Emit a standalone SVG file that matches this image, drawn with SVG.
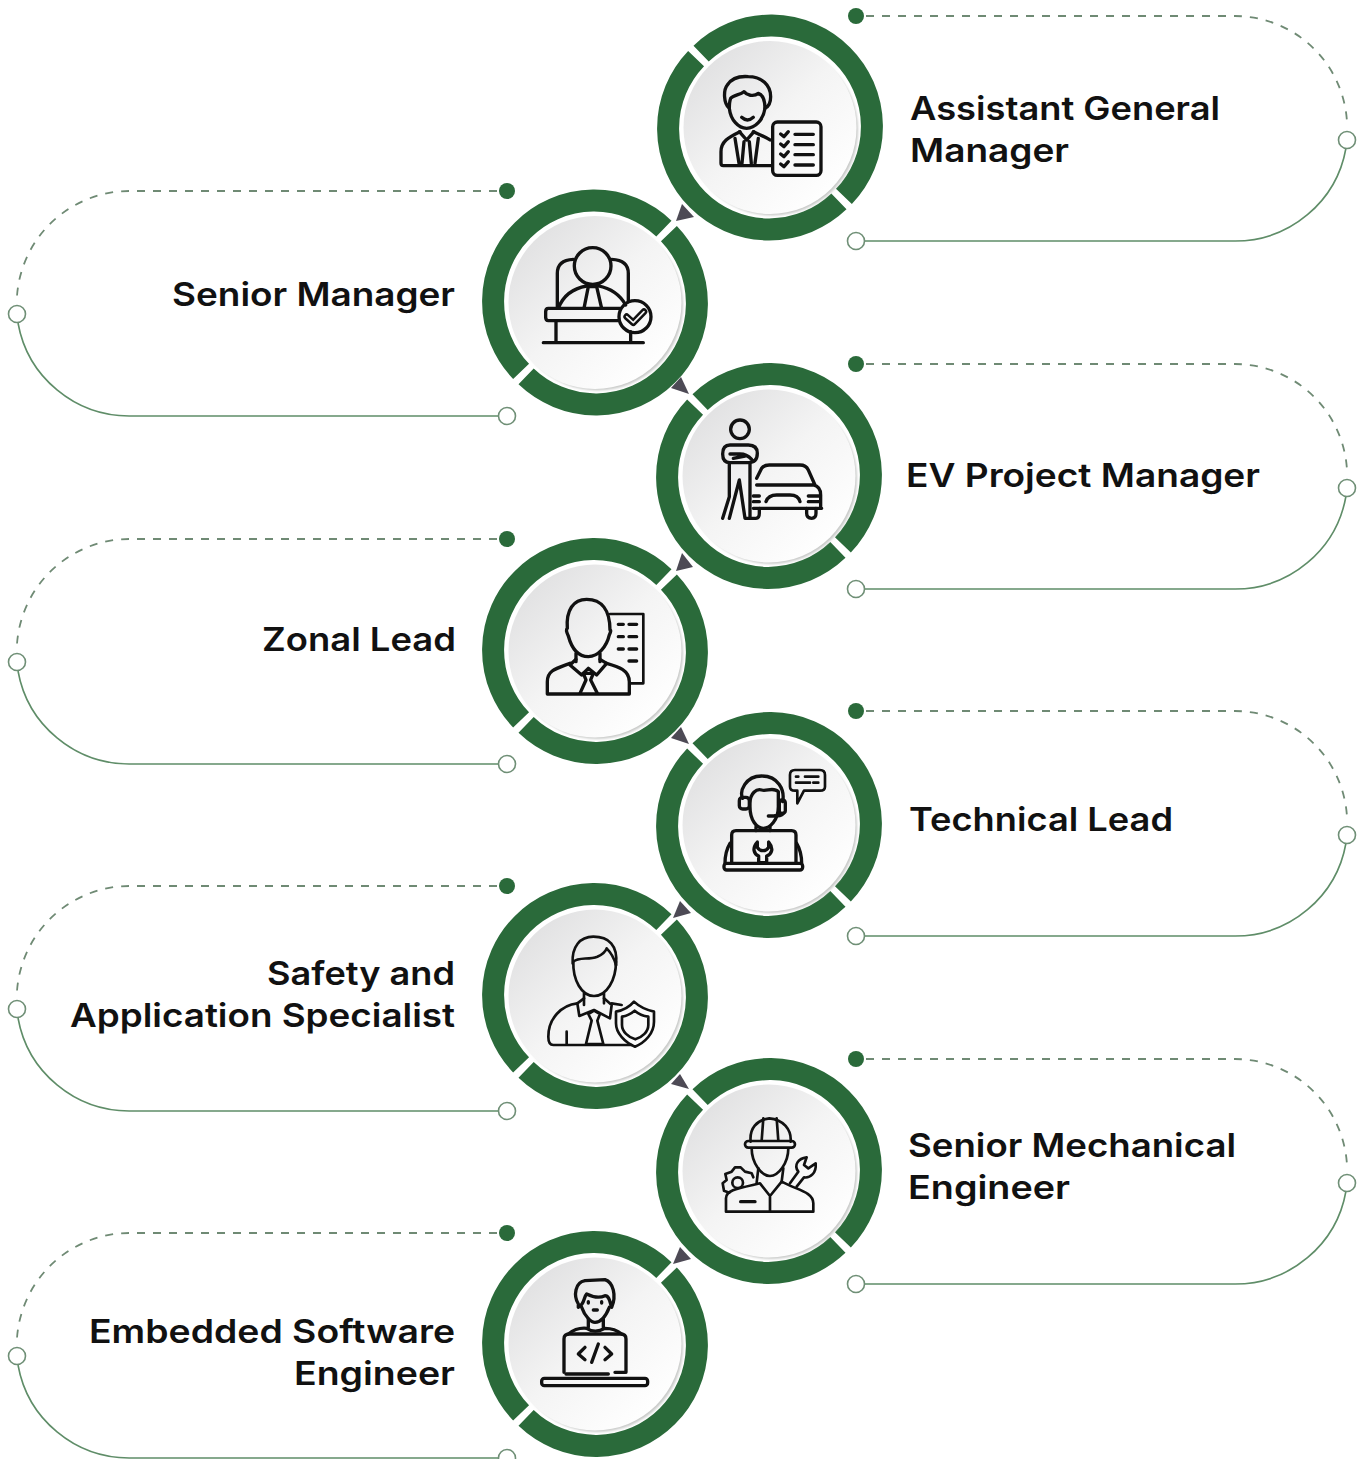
<svg xmlns="http://www.w3.org/2000/svg" width="1363" height="1459" viewBox="0 0 1363 1459">
<style>
.ring{fill:none;stroke:#2a6a3a;stroke-width:22}
.disc{fill:url(#discGrad)}
.shade{fill:#c9cbc9;filter:url(#soft)}
.ico{fill:none;stroke:#111;stroke-width:10;stroke-linecap:round;stroke-linejoin:round}
.thin{stroke-width:8}
.lbl{font-family:"Inter","Liberation Sans",sans-serif;font-weight:600;font-size:33px;fill:#111}
.dash{fill:none;stroke:#6f8a74;stroke-width:1.8;stroke-dasharray:8 8}
.solid{fill:none;stroke:#5f8d68;stroke-width:1.6}
.dot{fill:#2a6a3a}
.open{fill:#fff;stroke:#6f8f76;stroke-width:1.6}
.tri{fill:#4d4a55}
</style>
<defs>
<linearGradient id="discGrad" x1="0.1" y1="0.1" x2="0.85" y2="0.9">
<stop offset="0" stop-color="#e0e0e1"/><stop offset="0.5" stop-color="#f4f4f4"/><stop offset="1" stop-color="#ffffff"/>
</linearGradient>
<filter id="soft" x="-10%" y="-10%" width="120%" height="120%"><feGaussianBlur stdDeviation="1"/></filter>
<g id="ringA"><path class="ring" d="M68.900 73.900A101 101 0 0 1-73.900-68.900"/><path class="ring" d="M-68.900-73.900A101 101 0 0 1 73.900 68.900"/><circle class="shade" cx="2.500" cy="2.500" r="85.500"/><circle class="disc" r="86.500"/></g>
<g id="ringB"><path class="ring" d="M73.900-68.900A101 101 0 0 1-68.900 73.900"/><path class="ring" d="M-73.900 68.900A101 101 0 0 1 68.900-73.900"/><circle class="shade" cx="2.500" cy="2.500" r="85.500"/><circle class="disc" r="86.500"/></g>
<g id="connR"><circle class="dot" cx="856" cy="16" r="8"/><path class="dash" d="M866 16H1235A112.500 112.500 0 0 1 1347 122"/><path class="solid" d="M1346 148A112.500 112.500 0 0 1 1235 241H865"/><circle class="open" cx="1347" cy="140" r="8.500"/><circle class="open" cx="856" cy="241" r="8.500"/></g>
<g id="connL"><circle class="dot" cx="507" cy="191" r="8"/><path class="dash" d="M497 191H130A113 113 0 0 0 17 296"/><path class="solid" d="M18 323A113 113 0 0 0 130 416H498"/><circle class="open" cx="17" cy="314" r="8.500"/><circle class="open" cx="507" cy="416" r="8.500"/></g>
</defs>
<rect width="1363" height="1459" fill="#fff"/>
<g id="connectors">
<use href="#connR"/><use href="#connL"/>
<use href="#connR" y="348"/><use href="#connL" y="348"/>
<use href="#connR" y="695"/><use href="#connL" y="695"/>
<use href="#connR" y="1043"/><use href="#connL" y="1042"/>
<polygon class="tri" points="682,204 694,217 676,221"/>
<polygon class="tri" points="681,377 689,394 671,388"/>
<polygon class="tri" points="682,553 693,567 676,571"/>
<polygon class="tri" points="681,727 689,744 671,738"/>
<polygon class="tri" points="680,901 691,913 673,918"/>
<polygon class="tri" points="680,1074 689,1089 671,1084"/>
<polygon class="tri" points="680,1247 691,1259 673,1264"/>
</g>
<g id="node-assistant-general-manager">
<use href="#ringA" x="770" y="127.500"/>
<g class="ico" transform="translate(640 0) scale(.3333)">
<path d="M268 325C250 310 250 270 262 255C275 235 300 228 325 230C365 230 392 255 392 290C392 310 385 320 375 325C375 300 370 285 355 280C340 292 320 285 312 275C300 285 280 285 272 295C268 305 268 315 268 325Z"/>
<path d="M268 325C272 360 295 385 320 385C345 385 370 360 375 325"/>
<path d="M305 352Q322 368 340 352"/>
<path d="M395 497H250Q243 497 243 490V455C243 425 265 412 300 395M340 395C360 405 375 410 390 420"/>
<path d="M298 395L320 420L342 395M312 425L306 490M328 425L334 490M285 415L297 490M355 415L345 490"/>
<rect x="398" y="366" width="145" height="160" rx="14"/>
<path d="M465 403H520M465 434H520M465 464H520M465 495H520"/>
<path d="M422 402L432 410L445 395M422 432L432 440L445 425M422 462L432 470L445 455M422 492L432 500L445 485"/>
</g>
<text class="lbl" x="910" y="120" textLength="310" lengthAdjust="spacingAndGlyphs">Assistant General</text>
<text class="lbl" x="910" y="162" textLength="159" lengthAdjust="spacingAndGlyphs">Manager</text>
</g>
<g id="node-senior-manager">
<use href="#ringB" x="595" y="302.500"/>
<g class="ico" transform="translate(480 180) scale(.3333)">
<circle cx="338" cy="258" r="55"/>
<path d="M232 380V280Q232 240 280 238M395 238Q445 240 445 280V365"/>
<path d="M235 385C250 345 280 325 320 318M355 318C390 325 420 345 437 375"/>
<path d="M325 320L312 385M350 320L365 385M325 320H350"/>
<path d="M415 422H205Q197 422 197 412V395Q197 385 205 385H420"/>
<path d="M228 425V488M452 455V488M190 488H490"/>
<circle cx="465" cy="410" r="48"/>
<path d="M440 410L460 428L492 395" stroke-width="20"/>
<path d="M440 410L460 428L492 395" stroke="#f7f7f7" stroke-width="5"/>
</g>
<text class="lbl" x="455" y="306" text-anchor="end" textLength="283" lengthAdjust="spacingAndGlyphs">Senior Manager</text>
</g>
<g id="node-ev-project-manager">
<use href="#ringA" x="769" y="476"/>
<g class="ico" transform="translate(650 370) scale(.3333)">
<circle cx="270" cy="178" r="28"/>
<path d="M250 225H295Q322 225 322 250Q322 278 295 278H240Q218 278 218 252Q218 225 240 225H250M240 252H270Q290 252 305 268M250 265L285 258"/>
<path d="M238 280V380L218 445M300 280V445H285L268 330L238 445"/>
<path d="M320 325L335 295Q342 285 358 285H450Q468 285 475 300L495 345M320 345H490Q512 350 512 375V415"/>
<path d="M348 395Q355 375 380 375H420Q445 375 450 395M310 415H515"/>
<path d="M470 415V430Q470 445 485 445Q498 445 498 430V415M302 445H318Q328 445 328 430V415"/>
<path d="M475 378H510M475 395H510M310 378H328M310 395H328"/>
</g>
<text class="lbl" x="906" y="487" textLength="354" lengthAdjust="spacingAndGlyphs">EV Project Manager</text>
</g>
<g id="node-zonal-lead">
<use href="#ringB" x="595" y="651"/>
<g class="ico" transform="translate(490 550) scale(.3333)">
<path d="M232 235C228 180 250 148 290 148C335 148 360 180 360 240Q365 240 358 255C350 290 325 320 295 320C265 320 245 295 235 258Q226 240 232 235Z"/>
<path d="M258 310V335M330 310V335"/>
<path d="M258 328L240 345L275 375L295 355L320 375L350 340L330 328"/>
<path d="M240 340C200 355 172 360 172 395V432H418V395C418 360 385 350 350 340"/>
<path d="M280 370L288 390L270 430M310 370L302 390L322 430M280 370H310"/>
<path class="thin" d="M360 192H460V400H420"/>
<path d="M385 223H400M417 223H440M385 260H400M417 260H440M385 297H400M417 297H440M417 333H440"/>
</g>
<text class="lbl" x="456" y="651" text-anchor="end" textLength="194" lengthAdjust="spacingAndGlyphs">Zonal Lead</text>
</g>
<g id="node-technical-lead">
<use href="#ringA" x="769" y="825"/>
<g class="ico" transform="translate(650 720) scale(.3333)">
<path d="M278 235C268 215 285 168 335 168C385 168 405 210 398 245"/>
<path d="M300 250C300 220 320 205 335 210C350 215 370 200 385 215V260C385 300 360 325 340 325C320 325 300 300 300 260Z"/>
<rect x="268" y="232" width="30" height="35" rx="10"/><rect x="388" y="240" width="18" height="40" rx="8"/>
<path d="M400 280Q395 290 375 287M355 288H375"/>
<path d="M318 320V332M360 320V332"/>
<path d="M245 430V345Q245 332 258 332H425Q438 332 438 345V430"/>
<rect x="222" y="430" width="236" height="20" rx="8"/>
<path d="M240 370Q225 395 225 430M440 370Q455 395 455 430"/>
<path d="M322 366C305 385 312 402 326 408V428H350V408C366 402 372 385 356 366V382Q350 392 339 392Q328 392 322 382Z"/>
<path class="thin" d="M420 165Q420 150 435 150H510Q525 150 525 165V200Q525 212 510 212H462L442 250V212H435Q420 212 420 200Z"/>
<path class="thin" d="M438 170H445M465 170H505M438 188H480M490 188H505"/>
</g>
<text class="lbl" x="909" y="831" textLength="264" lengthAdjust="spacingAndGlyphs">Technical Lead</text>
</g>
<g id="node-safety-and-application-specialist">
<use href="#ringB" x="595" y="996"/>
<g class="ico thin" transform="translate(490 890) scale(.3333)">
<path d="M248 220C245 170 270 140 310 140C355 140 385 165 378 225"/>
<path d="M250 215C265 200 295 210 322 200Q345 190 350 175Q370 195 378 225"/>
<path d="M250 215C248 270 275 318 312 318C350 318 378 270 378 215"/>
<path d="M282 310V345M342 310V340"/>
<path d="M282 325L262 340L268 378L312 360L360 385L365 345L342 325"/>
<path d="M262 340C215 345 175 385 175 440Q175 465 190 465H425M365 340L395 345"/>
<path d="M295 372L312 362L330 372L322 392L340 462H288L305 392Z"/>
<path d="M230 462V425"/>
<path d="M432 335C415 355 395 362 378 365V400C378 430 405 458 435 470C465 458 492 430 492 395V365C470 360 450 352 432 335Z"/>
<path d="M434 362C422 372 408 378 396 380V405C396 425 415 442 436 448C457 442 475 425 475 405V380C460 378 446 372 434 362Z"/>
</g>
<text class="lbl" x="455" y="985" text-anchor="end" textLength="188" lengthAdjust="spacingAndGlyphs">Safety and</text>
<text class="lbl" x="455" y="1027" text-anchor="end" textLength="385" lengthAdjust="spacingAndGlyphs">Application Specialist</text>
</g>
<g id="node-senior-mechanical-engineer">
<use href="#ringA" x="769" y="1171"/>
<g class="ico thin" transform="translate(650 1070) scale(.3333)">
<path d="M302 215C298 175 320 150 358 145C400 148 425 180 422 215"/>
<path d="M340 145L335 212M380 145L385 212"/>
<rect x="285" y="213" width="150" height="20" rx="10"/>
<path d="M305 235C305 280 335 318 360 318C385 318 415 280 415 235"/>
<path d="M228 425V385C228 360 265 355 330 340L360 378L395 335C440 360 490 365 490 400V425ZM360 378V425"/>
<path d="M325 295L320 338M400 295L395 335"/>
<path stroke-width="10" d="M272 395H315"/>
<circle cx="263" cy="338" r="16"/>
<path d="M238 368L222 362L218 340L230 330L226 312L245 305L255 292L272 292L285 305L305 310L310 322"/>
<path d="M420 340L445 305C430 285 445 265 470 262L462 285L475 295L497 280C500 310 480 325 462 322L440 350"/>
</g>
<text class="lbl" x="908" y="1157" textLength="328" lengthAdjust="spacingAndGlyphs">Senior Mechanical</text>
<text class="lbl" x="908" y="1199" textLength="162" lengthAdjust="spacingAndGlyphs">Engineer</text>
</g>
<g id="node-embedded-software-engineer">
<use href="#ringB" x="595" y="1344"/>
<g class="ico" transform="translate(490 1239) scale(.3333)">
<path d="M265 195C250 170 255 130 285 125L345 122C370 130 380 170 365 205C360 195 360 170 345 170C325 180 300 170 290 165C280 175 285 195 265 205Z"/>
<path d="M275 205C285 235 305 250 315 250C335 250 350 225 358 205"/>
<path d="M295 188V192M335 188V192M310 213H322"/>
<path d="M295 240V265M340 240V265"/>
<path d="M235 285Q260 265 290 268Q315 285 345 268Q375 268 395 285"/>
<path d="M222 400V300Q222 285 238 285H392Q408 285 408 300V400"/>
<path d="M228 405H355M375 400H405"/>
<rect x="155" y="418" width="318" height="22" rx="8"/>
<path d="M285 325L265 345L285 362M345 325L365 345L345 362M325 315L305 370"/>
</g>
<text class="lbl" x="455" y="1343" text-anchor="end" textLength="366" lengthAdjust="spacingAndGlyphs">Embedded Software</text>
<text class="lbl" x="455" y="1385" text-anchor="end" textLength="161" lengthAdjust="spacingAndGlyphs">Engineer</text>
</g>
</svg>
